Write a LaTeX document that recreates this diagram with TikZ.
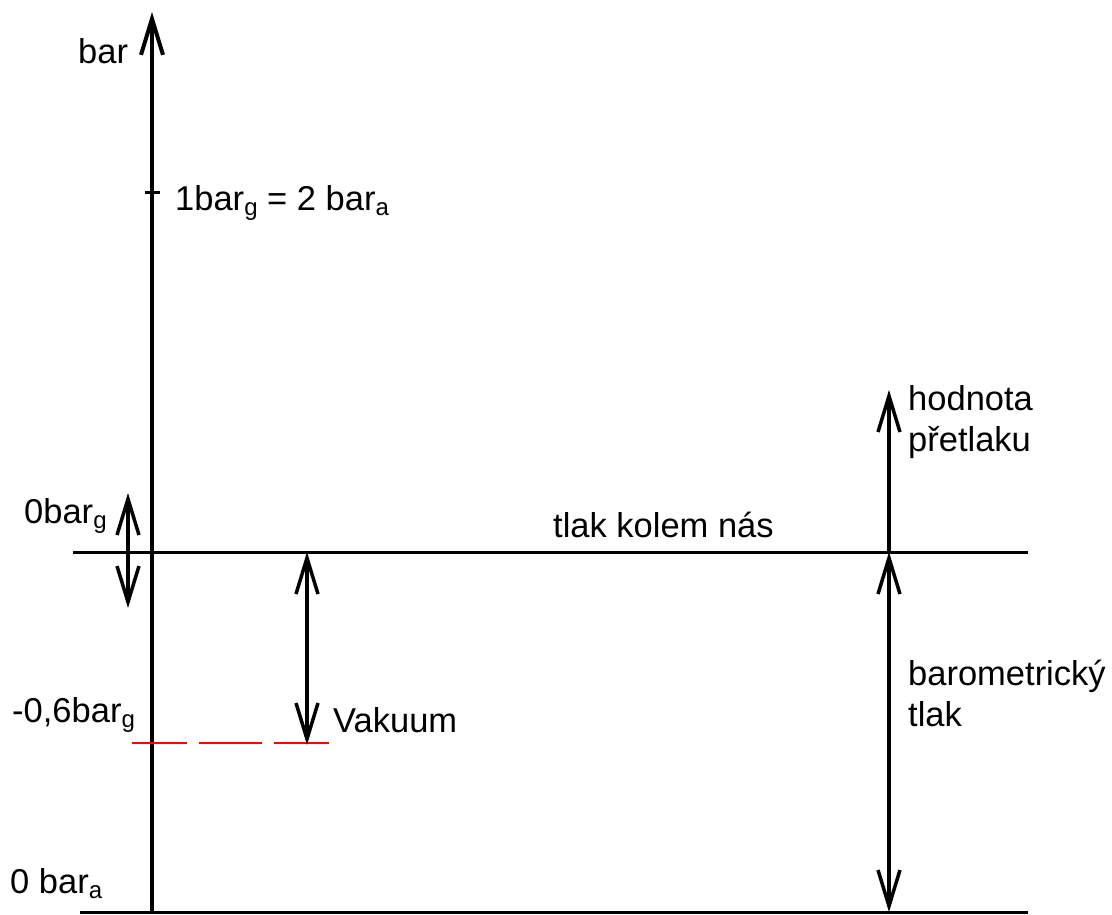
\documentclass[tikz,border=0pt]{standalone}
\usepackage{fontspec}
\setmainfont{Liberation Sans}
\usetikzlibrary{arrows.meta}
\newcommand\lsub[1]{\raisebox{-0.15em}{\fontsize{24}{24}\selectfont #1}}
\begin{document}
\begin{tikzpicture}[x=1pt,y=-1pt,
  lbl/.style={inner sep=0pt,anchor=base west,font=\fontsize{34.5}{41}\selectfont},
  mlbl/.style={inner sep=0pt,anchor=north west,align=left,font=\fontsize{34.5}{41}\selectfont},
  axis/.style={line width=4pt},
  hline/.style={line width=3pt},
  tip/.style={-{Straight Barb[length=36pt,width=22pt]}},
  dtip/.style={{Straight Barb[length=36pt,width=22pt]}-{Straight Barb[length=36pt,width=22pt]}},
  arr/.style={line width=3.5pt},
  reddash/.style={red,line width=2.5pt,dash pattern=on 55pt off 12pt on 63pt off 12pt on 60pt}]
\useasboundingbox (0,0) rectangle (1112,914);
% coordinates
\coordinate (axb) at (152,912);
\coordinate (axt) at (152,12);
\coordinate (tickl) at (145,192);
\coordinate (tickr) at (160,192);
\coordinate (atml) at (73,552);
\coordinate (atmr) at (1028,552);
\coordinate (botl) at (80,912);
\coordinate (botr) at (1028,912);
\coordinate (zgt) at (128,493);
\coordinate (zgb) at (128,608);
\coordinate (vt) at (307,552);
\coordinate (vb) at (307,745);
\coordinate (rdl) at (132,743);
\coordinate (rdr) at (329,743);
\coordinate (pt) at (889,390);
\coordinate (pb) at (889,552);
\coordinate (bt) at (889,552);
\coordinate (bb) at (889,912);
% lines
\draw[axis,tip] (axb) -- (axt);
\draw[line width=3pt] (tickl) -- (tickr);
\draw[hline] (atml) -- (atmr);
\draw[hline] (botl) -- (botr);
\draw[reddash] (rdl) -- (rdr);
\draw[arr,dtip] (zgt) -- (zgb);
\draw[arr,dtip] (vt) -- (vb);
\draw[arr,tip] (pb) -- (pt);
\draw[arr,dtip] (bt) -- (bb);
% labels
\node[lbl] (lbar) at (78,63) {bar};
\node[lbl] (l1) at (175,210) {1bar\lsub{g} = 2 bar\lsub{a}};
\node[lbl] (l0g) at (24,523) {0bar\lsub{g}};
\node[lbl] (latm) at (553,537) {tlak kolem nás};
\node[lbl] (l06) at (12,722) {-0,6bar\lsub{g}};
\node[lbl] (lvak) at (333,732) {Vakuum};
\node[mlbl] (lhod) at (908,385) {hodnota\\přetlaku};
\node[mlbl] (lbaro) at (908,660) {barometrický\\tlak};
\node[lbl] (l0a) at (10,893) {0 bar\lsub{a}};
\end{tikzpicture}
\end{document}
